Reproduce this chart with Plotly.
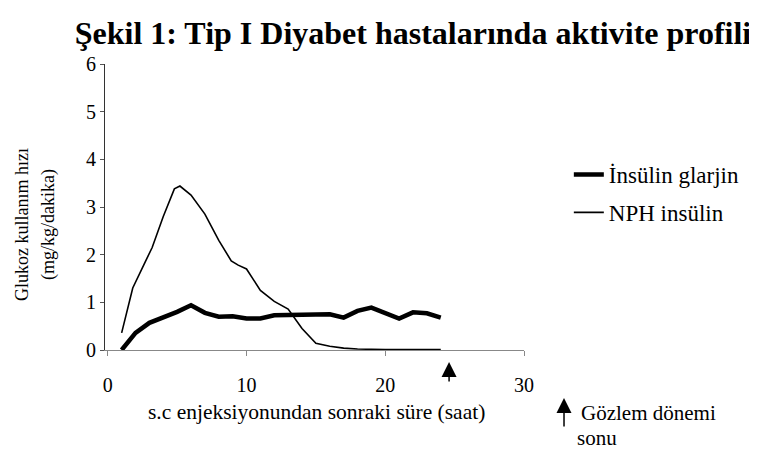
import plotly.graph_objects as go

# Data
glarjin_x = [1, 2, 3, 4, 5, 6, 7, 8, 9, 10, 11, 12, 13, 14, 15, 16, 17, 18, 19, 20, 21, 22, 23, 24]
glarjin_y = [0.0, 0.36, 0.57, 0.68, 0.80, 0.94, 0.78, 0.70, 0.71, 0.66, 0.66, 0.73,
             0.73, 0.73, 0.75, 0.75, 0.68, 0.82, 0.89, 0.78, 0.66, 0.79, 0.77, 0.68]

nph_x = [1, 1.8, 2.7, 3.2, 4, 4.8, 5.2, 6, 7, 8, 8.9, 9.4, 10, 11, 12, 13, 14, 15, 16, 17,
         18, 19, 20, 21, 22, 23, 24]
nph_y = [0.36, 1.3, 1.85, 2.15, 2.8, 3.38, 3.44, 3.25, 2.85, 2.3, 1.87, 1.78, 1.7, 1.25,
         1.02, 0.86, 0.45, 0.14, 0.08, 0.04, 0.02, 0.01, 0.01, 0.01, 0.01, 0.01, 0.01]

series_names = ["İnsülin glarjin", "NPH insülin"]
x_ticks = [0, 10, 20, 30]
y_ticks = [0, 1, 2, 3, 4, 5, 6]
end_of_observation = 24.6

title_text = "Şekil 1: Tip I Diyabet hastalarında aktivite profili"
x_title = "s.c enjeksiyonundan sonraki süre (saat)"
y_title_lines = ["Glukoz kullanım hızı", "(mg/kg/dakika)"]
note_lines = ["Gözlem dönemi", "sonu"]

FONT = "Liberation Serif"

fig = go.Figure()
fig.add_trace(go.Scatter(x=glarjin_x, y=glarjin_y, mode="lines", name=series_names[0],
                         line=dict(color="black", width=4.5), legendgroup="a"))
fig.add_trace(go.Scatter(x=nph_x, y=nph_y, mode="lines", name=series_names[1],
                         line=dict(color="black", width=1.6), legendgroup="b"))

# arrow under the x axis marking end of observation
fig.add_annotation(x=end_of_observation, y=0, xref="x", yref="y", yshift=-12,
                   text="", showarrow=True, ax=0, ay=21, arrowhead=2, arrowsize=2.0,
                   arrowwidth=1.5, arrowcolor="black")

# explanatory note at bottom right
fig.add_annotation(x=1.0955, y=-0.1678, xref="paper", yref="paper",
                   text="", showarrow=True, ax=0, ay=30, arrowhead=2, arrowsize=2.0,
                   arrowwidth=1.5, arrowcolor="black")
fig.add_annotation(x=1.1313, y=-0.2203, xref="paper", yref="paper", xanchor="left", yanchor="middle",
                   text=note_lines[0], showarrow=False,
                   font=dict(family=FONT, size=21, color="black"))
fig.add_annotation(x=1.1217, y=-0.3077, xref="paper", yref="paper", xanchor="left", yanchor="middle",
                   text=note_lines[1], showarrow=False,
                   font=dict(family=FONT, size=21, color="black"))

# axis titles
fig.add_annotation(x=0.5036, y=-0.2168, xref="paper", yref="paper", xanchor="center", yanchor="middle",
                   text=x_title, showarrow=False, font=dict(family=FONT, size=21.5, color="black"))
fig.add_annotation(x=-0.198, y=0.437, xref="paper", yref="paper", xanchor="center", yanchor="middle",
                   text=y_title_lines[0], textangle=-90, showarrow=False,
                   font=dict(family=FONT, size=18, color="black"))
fig.add_annotation(x=-0.136, y=0.437, xref="paper", yref="paper", xanchor="center", yanchor="middle",
                   text=y_title_lines[1], textangle=-90, showarrow=False,
                   font=dict(family=FONT, size=18, color="black"))

# the page adds an 8px body margin, so the figure is 8px smaller than the window
fig.update_layout(
    width=749, height=442,
    paper_bgcolor="white", plot_bgcolor="white",
    margin=dict(l=97, r=233, t=56, b=100),
    title=dict(text="<b>" + title_text + "</b>", x=0.5407, xanchor="center", y=0.9434, yanchor="middle",
               font=dict(family=FONT, size=32, color="black")),
    font=dict(family=FONT, size=18, color="black"),
    showlegend=True,
    legend=dict(x=1.107, y=0.547, xanchor="left", yanchor="middle", bgcolor="rgba(0,0,0,0)",
                font=dict(family=FONT, size=23, color="black"), tracegroupgap=5,
                traceorder="grouped", itemwidth=30),
    xaxis=dict(range=[-0.2, 30], tickvals=x_ticks, ticktext=[str(v) for v in x_ticks],
               showgrid=False, zeroline=False, showline=True, linecolor="#888888", linewidth=1,
               ticks="outside", ticklen=5, tickcolor="#888888", automargin=False,
               ticklabelstandoff=12,
               tickfont=dict(family=FONT, size=20, color="black")),
    yaxis=dict(range=[0, 6], tickvals=y_ticks, ticktext=[str(v) for v in y_ticks],
               showgrid=False, zeroline=False, showline=True, linecolor="#333333", linewidth=1,
               ticks="outside", ticklen=4, tickcolor="#555555", automargin=False,
               tickfont=dict(family=FONT, size=20, color="black")),
)

fig.write_html("out.html")
